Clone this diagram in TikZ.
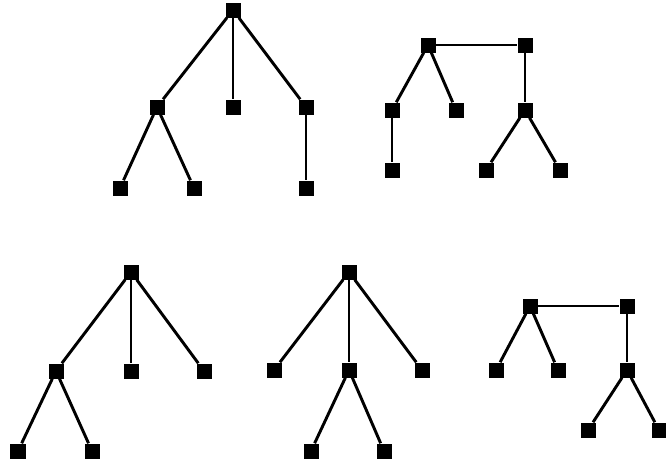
\documentclass[tikz,border=0pt]{standalone}
\usepackage{tikz}
\usetikzlibrary{positioning}
\tikzset{
  vertex/.style={
    rectangle, fill=black, draw=none,
    minimum size=0.45cm, inner sep=0pt
  },
  treeedge/.style={
    line width=2.5pt, color=black
  },
}
\begin{document}
\begin{tikzpicture}[x=0.03cm, y=-0.03cm]
    \useasboundingbox (0,0) rectangle (666,465);
    % top left tree
    \node[vertex] (ta) at (233,10) {};
    \node[vertex] (tb) at (157,107) {};
    \node[vertex] (tc) at (233,107) {};
    \node[vertex] (td) at (306,107) {};
    \node[vertex] (te) at (120,188) {};
    \node[vertex] (tf) at (194,188) {};
    \node[vertex] (tg) at (306,188) {};
    \draw[treeedge] (ta) -- (tb);
    \draw[treeedge] (ta) -- (tc);
    \draw[treeedge] (ta) -- (td);
    \draw[treeedge] (tb) -- (te);
    \draw[treeedge] (tb) -- (tf);
    \draw[treeedge] (td) -- (tg);
    % top right pair
    \node[vertex] (ua) at (428,45) {};
    \node[vertex] (ub) at (525,45) {};
    \node[vertex] (uc) at (392,110) {};
    \node[vertex] (ud) at (456,110) {};
    \node[vertex] (ue) at (525,110) {};
    \node[vertex] (uf) at (392,170) {};
    \node[vertex] (ug) at (486,170) {};
    \node[vertex] (uh) at (560,170) {};
    \draw[treeedge] (ua) -- (ub);
    \draw[treeedge] (ua) -- (uc);
    \draw[treeedge] (ua) -- (ud);
    \draw[treeedge] (ub) -- (ue);
    \draw[treeedge] (uc) -- (uf);
    \draw[treeedge] (ue) -- (ug);
    \draw[treeedge] (ue) -- (uh);
    % bottom left tree
    \node[vertex] (va) at (131,272) {};
    \node[vertex] (vb) at (56,371) {};
    \node[vertex] (vc) at (131,371) {};
    \node[vertex] (vd) at (204,371) {};
    \node[vertex] (ve) at (18,451) {};
    \node[vertex] (vf) at (92,451) {};
    \draw[treeedge] (va) -- (vb);
    \draw[treeedge] (va) -- (vc);
    \draw[treeedge] (va) -- (vd);
    \draw[treeedge] (vb) -- (ve);
    \draw[treeedge] (vb) -- (vf);
    % bottom middle tree
    \node[vertex] (wa) at (349,272) {};
    \node[vertex] (wb) at (274,370) {};
    \node[vertex] (wc) at (349,370) {};
    \node[vertex] (wd) at (422,370) {};
    \node[vertex] (we) at (311,451) {};
    \node[vertex] (wf) at (384,451) {};
    \draw[treeedge] (wa) -- (wb);
    \draw[treeedge] (wa) -- (wc);
    \draw[treeedge] (wa) -- (wd);
    \draw[treeedge] (wc) -- (we);
    \draw[treeedge] (wc) -- (wf);
    % bottom right pair
    \node[vertex] (xa) at (530,306) {};
    \node[vertex] (xb) at (627,306) {};
    \node[vertex] (xc) at (496,370) {};
    \node[vertex] (xd) at (558,370) {};
    \node[vertex] (xe) at (627,370) {};
    \node[vertex] (xf) at (588,430) {};
    \node[vertex] (xg) at (659,430) {};
    \draw[treeedge] (xa) -- (xb);
    \draw[treeedge] (xa) -- (xc);
    \draw[treeedge] (xa) -- (xd);
    \draw[treeedge] (xb) -- (xe);
    \draw[treeedge] (xe) -- (xf);
    \draw[treeedge] (xe) -- (xg);
\end{tikzpicture}
\end{document}
